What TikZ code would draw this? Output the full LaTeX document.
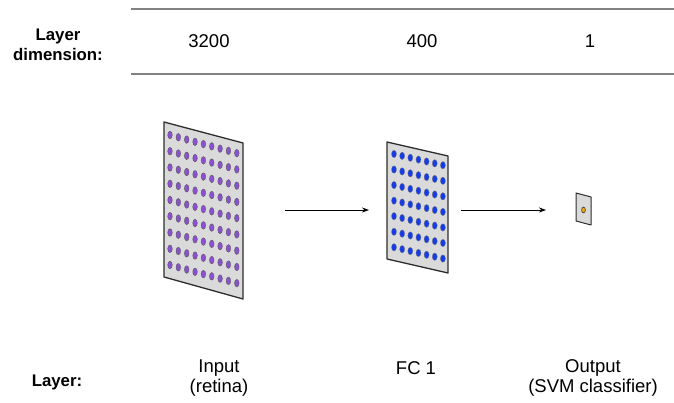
\documentclass[tikz,border=0pt]{standalone}
\usepackage{fontspec}
\setmainfont{Liberation Sans}
\usetikzlibrary{arrows.meta}
\definecolor{rulegray}{RGB}{130,130,130}
\definecolor{panelfill}{RGB}{218,218,218}
\definecolor{paneledge}{RGB}{45,45,45}
\definecolor{purpledot}{RGB}{140,80,210}
\definecolor{bluedot}{RGB}{20,60,235}
\definecolor{orangedot}{RGB}{240,170,20}
\tikzset{
  txt/.style={font=\fontsize{18.5}{20}\selectfont, align=center, inner sep=0pt},
  boldtxt/.style={txt, font=\fontsize{16.8}{20}\selectfont\bfseries},
  hrule/.style={draw=rulegray, line width=1.6pt},
  panel/.style={fill=panelfill, draw=paneledge, line width=1.3pt, line join=round},
  dotp/.style={fill=purpledot, draw=black!65, line width=0.4pt},
  dotb/.style={fill=bluedot, draw=black!55, line width=0.3pt},
  doto/.style={fill=orangedot, draw=black!80, line width=0.6pt},
  conn/.style={draw=black, line width=0.8pt, -{Stealth[length=7pt,width=5pt]}}
}
\begin{document}
\begin{tikzpicture}[x=1pt,y=-1pt]
\useasboundingbox (0,0) rectangle (674,403);
% header rules
\coordinate (r1a) at (131,9); \coordinate (r1b) at (674,9);
\coordinate (r2a) at (131,74); \coordinate (r2b) at (674,74);
\draw[hrule] (r1a) -- (r1b);
\draw[hrule] (r2a) -- (r2b);
% header texts
\node[boldtxt] (hdim) at (58,45) {Layer\\dimension:};
\node[txt] (d1) at (209,41) {3200};
\node[txt] (d2) at (422,41) {400};
\node[txt] (d3) at (590,41) {1};
% input panel
\draw[panel] (164,122) -- (243,143) -- (243,299) -- (164,277) -- cycle;
\foreach \i in {0,...,8}{
  \foreach \j in {0,...,8}{
    \draw[dotp] ({170+\i*8.35},{135+\j*16.25+\i*8.35*0.272}) ellipse (2.3pt and 3.8pt);
  }
}
% FC1 panel
\draw[panel] (387,142) -- (448,156) -- (448,273) -- (387,259) -- cycle;
\foreach \i in {0,...,6}{
  \foreach \j in {0,...,6}{
    \draw[dotb] ({394+\i*8.15},{154+\j*15.55+\i*8.15*0.23}) ellipse (2.5pt and 3.7pt);
  }
}
% output panel
\draw[panel, line width=1pt] (576,193) -- (591,197) -- (591,225) -- (576,221) -- cycle;
\draw[doto] (583.5,210) ellipse (1.9pt and 2.9pt);
% connectors
\coordinate (a1s) at (285,210); \coordinate (a1e) at (369,210);
\coordinate (a2s) at (461,210); \coordinate (a2e) at (546,210);
\draw[conn] (a1s) -- (a1e);
\draw[conn] (a2s) -- (a2e);
% bottom labels
\node[boldtxt] (hl) at (57,382) {Layer:};
\node[txt] (l1) at (219,378) {Input\\(retina)};
\node[txt] (l2) at (416,368) {FC 1};
\node[txt] (l3) at (593,378) {Output\\(SVM classifier)};
\end{tikzpicture}
\end{document}
